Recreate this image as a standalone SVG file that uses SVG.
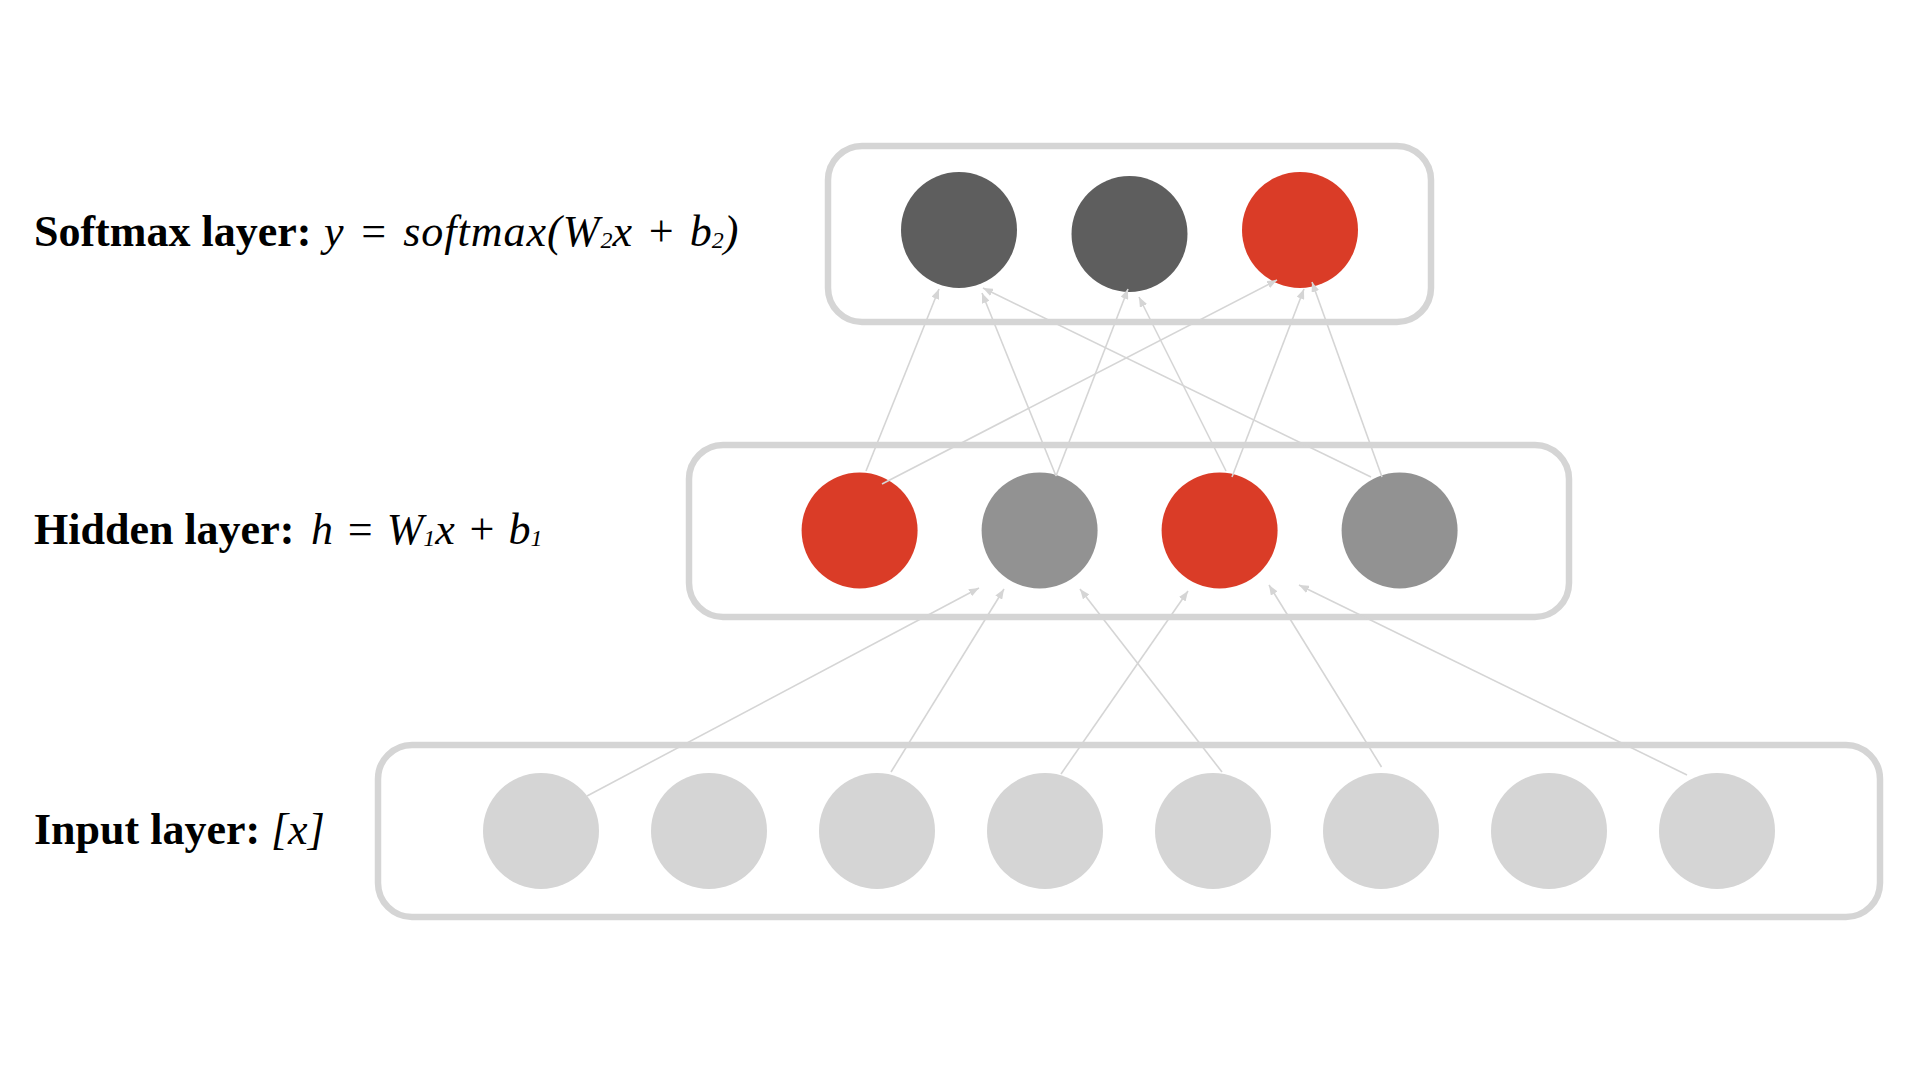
<svg xmlns="http://www.w3.org/2000/svg" width="1920" height="1080" viewBox="0 0 1920 1080">
  <style>
    .box { fill: none; stroke: #d5d5d5; stroke-width: 6.5; }
    .dark { fill: #5e5e5e; }
    .red { fill: #da3c27; }
    .mid { fill: #929292; }
    .light { fill: #d5d5d5; }
    .conn { stroke: #d5d5d5; stroke-width: 1.6; fill: none; marker-end: url(#ah); }
    .lbl { font-family: "Liberation Serif", "Times New Roman", serif; font-size: 44px; fill: #000; }
    .b { font-weight: bold; }
    .i { font-style: italic; }
    .sub { font-size: 24px; font-style: italic; }
  </style>
  <defs>
    <marker id="ah" markerWidth="10" markerHeight="8" refX="10" refY="4" orient="auto" markerUnits="userSpaceOnUse">
      <path d="M0,0 L10,4 L0,8 z" fill="#d5d5d5"/>
    </marker>
  </defs>
  <rect width="1920" height="1080" fill="#ffffff"/>

  <g id="labels">
    <text id="label-softmax" class="lbl" y="246"><tspan class="b" x="34">Softmax layer:</tspan><tspan class="i" x="324" letter-spacing="1" word-spacing="2">y = softmax(W</tspan><tspan class="sub" dy="2">2</tspan><tspan class="i" dy="-2" word-spacing="3">x + b</tspan><tspan class="sub" dy="2">2</tspan><tspan class="i" dy="-2">)</tspan></text>
    <text id="label-hidden" class="lbl" y="544"><tspan class="b" x="34">Hidden layer:</tspan><tspan class="i" x="311" word-spacing="1">h = W</tspan><tspan class="sub" dy="2">1</tspan><tspan class="i" dy="-2" word-spacing="1">x + b</tspan><tspan class="sub" dy="2">1</tspan></text>
    <text id="label-input" class="lbl" y="844"><tspan class="b" x="34">Input layer:</tspan><tspan class="i" x="271">[x]</tspan></text>
  </g>

  <g id="softmax-layer">
    <rect class="box" x="828" y="146" width="603" height="176" rx="34"/>
    <circle id="s1" class="dark" cx="959" cy="230" r="58"/>
    <circle id="s2" class="dark" cx="1129.5" cy="234" r="58"/>
    <circle id="s3" class="red" cx="1300" cy="230" r="58"/>
  </g>

  <g id="hidden-layer">
    <rect class="box" x="689" y="445" width="880" height="172" rx="34"/>
    <circle id="h1" class="red" cx="859.6" cy="530.5" r="58"/>
    <circle id="h2" class="mid" cx="1039.6" cy="530.5" r="58"/>
    <circle id="h3" class="red" cx="1219.6" cy="530.5" r="58"/>
    <circle id="h4" class="mid" cx="1399.6" cy="530.5" r="58"/>
  </g>

  <g id="input-layer">
    <rect class="box" x="378" y="745" width="1502" height="172" rx="34"/>
    <circle id="x1" class="light" cx="541" cy="831" r="58"/>
    <circle id="x2" class="light" cx="709" cy="831" r="58"/>
    <circle id="x3" class="light" cx="877" cy="831" r="58"/>
    <circle id="x4" class="light" cx="1045" cy="831" r="58"/>
    <circle id="x5" class="light" cx="1213" cy="831" r="58"/>
    <circle id="x6" class="light" cx="1381" cy="831" r="58"/>
    <circle id="x7" class="light" cx="1549" cy="831" r="58"/>
    <circle id="x8" class="light" cx="1717" cy="831" r="58"/>
  </g>

  <g id="connectors">
    <line class="conn" x1="587" y1="796" x2="979" y2="588"/>
    <line class="conn" x1="891" y1="772" x2="1004" y2="589"/>
    <line class="conn" x1="1222" y1="772" x2="1080" y2="589"/>
    <line class="conn" x1="1061" y1="774" x2="1188" y2="591"/>
    <line class="conn" x1="1381.5" y1="767" x2="1269" y2="585"/>
    <line class="conn" x1="1687" y1="775" x2="1299" y2="585"/>

    <line class="conn" x1="866" y1="471" x2="939" y2="289"/>
    <line class="conn" x1="882" y1="484" x2="1277" y2="280"/>
    <line class="conn" x1="1056" y1="476" x2="982" y2="293"/>
    <line class="conn" x1="1056" y1="476" x2="1128" y2="289"/>
    <line class="conn" x1="1226" y1="471" x2="1139" y2="297"/>
    <line class="conn" x1="1232" y1="477" x2="1304" y2="289"/>
    <line class="conn" x1="1371" y1="477" x2="983" y2="288"/>
    <line class="conn" x1="1382" y1="477" x2="1312" y2="282"/>
  </g>
</svg>
